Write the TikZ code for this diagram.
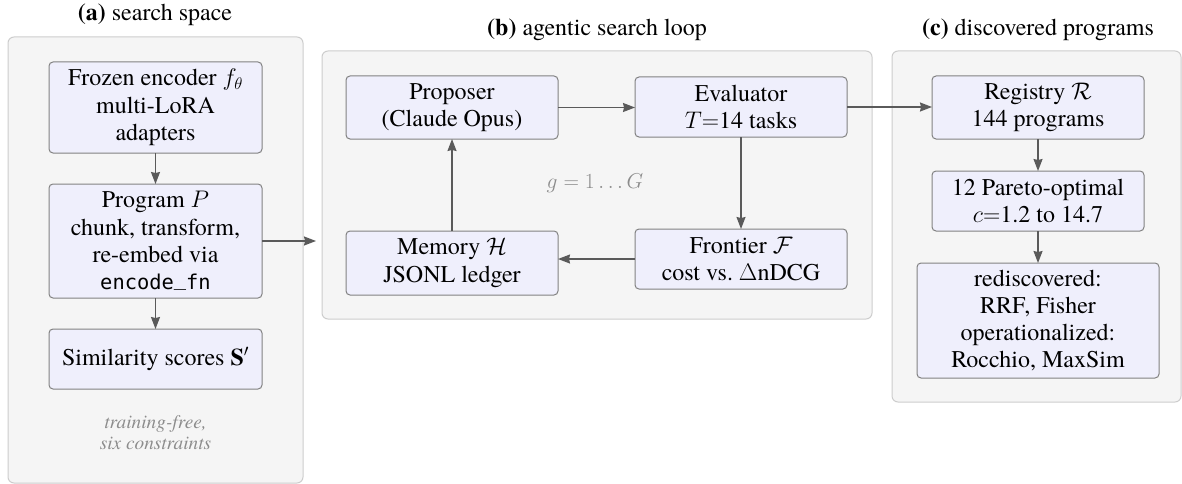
\RequirePackage{fix-cm}
\documentclass[tikz,border=0pt]{standalone}
\usepackage{fontspec}
\IfFontExistsTF{texgyretermes-regular.otf}{%
  \setmainfont{texgyretermes}[Extension=.otf,UprightFont=*-regular,BoldFont=*-bold,ItalicFont=*-italic,BoldItalicFont=*-bolditalic]}{}
\setmonofont{DejaVu Sans Mono}[Scale=0.85]
\usetikzlibrary{arrows.meta}
\definecolor{boxfill}{RGB}{239,239,252}
\definecolor{boxline}{RGB}{130,130,130}
\definecolor{panelfill}{RGB}{245,245,245}
\definecolor{panelline}{RGB}{205,205,205}
\definecolor{arrowcol}{RGB}{90,90,90}
\definecolor{notecol}{RGB}{140,140,140}
\newcommand\boxfont{\fontsize{24}{27.3}\selectfont}
\newcommand\notefont{\fontsize{19.3}{21}\selectfont}
\newcommand\glfont{\fontsize{21.5}{24}\selectfont}
\newcommand\usc{\raisebox{0.2em}{\char"5F}}
\begin{document}
\begin{tikzpicture}[x=1pt,y=-1pt,
 every node/.style={inner sep=0pt, outer sep=0pt},
 panel/.style={draw=panelline, fill=panelfill, rounded corners=6pt, line width=1pt},
 box/.style={draw=boxline, fill=boxfill, rounded corners=4pt, line width=1pt, align=center, font=\boxfont},
 paneltitle/.style={font=\boxfont},
 note/.style={text=notecol, font=\notefont, align=center},
 arr/.style={draw=arrowcol, line width=1.4pt, -{Stealth[length=12pt,width=9pt,inset=1pt]}}
]
\useasboundingbox (0,0) rectangle (1182,484);
% panels
\node[panel, minimum width=295pt, minimum height=446pt] (pa) at (155.5,260) {};
\node[panel, minimum width=550pt, minimum height=268pt] (pb) at (597,185) {};
\node[panel, minimum width=289pt, minimum height=351pt] (pc) at (1036.5,226.5) {};
% titles
\node[paneltitle] (ta) at (155,15) {\textbf{(a)} search space};
\node[paneltitle] (tb) at (597,30) {\textbf{(b)} agentic search loop};
\node[paneltitle] (tc) at (1038,30) {\textbf{(c)} discovered programs};
% panel a
\node[box, minimum width=213pt, minimum height=91pt] (a1) at (155.5,107.5) {Frozen encoder $f_\theta$\\multi-LoRA\\adapters};
\node[box, minimum width=213pt, minimum height=114pt] (a2) at (155.5,241) {Program $P$\\chunk, transform,\\re-embed via\\\texttt{encode\usc fn}};
\node[box, minimum width=213pt, minimum height=60pt] (a3) at (155.5,359) {Similarity scores $\mathbf{S}'$};
\node[note, font=\notefont\itshape] (na) at (155.5,433) {training-free,\\six constraints};
\coordinate (ain) at (316,241);
% panel b
\node[box, minimum width=212pt, minimum height=63pt] (b1) at (452,107.5) {Proposer\\(Claude Opus)};
\node[box, minimum width=212pt, minimum height=60pt] (b2) at (741,107) {Evaluator\\$T{=}$14 tasks};
\node[box, minimum width=212pt, minimum height=60pt] (b3) at (741,259) {Frontier $\mathcal{F}$\\cost vs.\ $\Delta$nDCG};
\node[box, minimum width=212pt, minimum height=64pt] (b4) at (452,263) {Memory $\mathcal{H}$\\JSONL ledger};
\node[note, font=\glfont] (gl) at (595,183) {$g=1\ldots G$};
% panel c
\node[box, minimum width=212pt, minimum height=63pt] (c1) at (1038,107.5) {Registry $\mathcal{R}$\\144 programs};
\node[box, minimum width=212pt, minimum height=60pt] (c2) at (1038,201) {12 Pareto-optimal\\$c{=}$1.2 to 14.7};
\node[box, minimum width=242pt, minimum height=115pt] (c3) at (1038,320.5) {rediscovered:\\RRF, Fisher\\operationalized:\\Rocchio, MaxSim};
% arrows
\draw[arr] (a1) -- (a2);
\draw[arr] (a2) -- (a3);
\draw[arr] (a2.east) -- (ain);
\draw[arr] (b1.east) -- (b1.east -| b2.west);
\draw[arr] (b2) -- (b3);
\draw[arr] (b3.west) -- (b3.west -| b4.east);
\draw[arr] (b4) -- (b1);
\draw[arr] (b2.east) -- (b2.east -| c1.west);
\draw[arr] (c1) -- (c2);
\draw[arr] (c2) -- (c3);
\end{tikzpicture}
\end{document}
